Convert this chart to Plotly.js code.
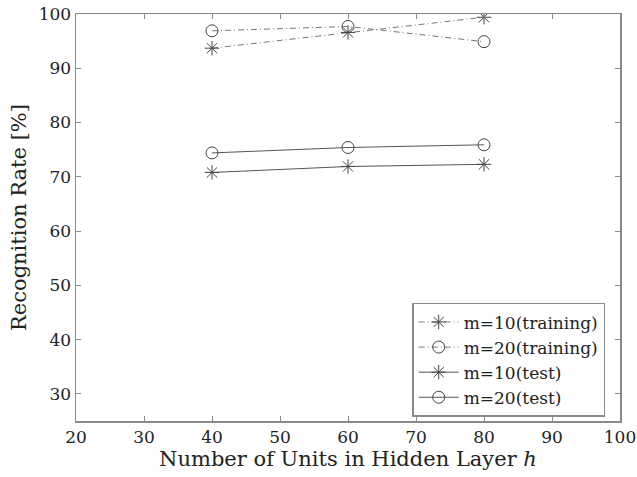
<!DOCTYPE html>
<html>
<head>
<meta charset="utf-8">
<script src="https://cdn.plot.ly/plotly-3.0.1.min.js"></script>
<style>html,body{margin:0;padding:0;background:#fff;}#chart{width:637px;height:477px;}</style>
</head>
<body>
<div id="chart"></div>
<script>
var hiddenUnits = [40, 60, 80];
var m10Training = [93.7, 96.6, 99.4];
var m20Training = [96.9, 97.7, 94.9];
var m10Test = [70.8, 71.9, 72.3];
var m20Test = [74.4, 75.4, 75.9];
var seriesNames = ['m=10(training)', 'm=20(training)', 'm=10(test)', 'm=20(test)'];
var xTicks = [20, 30, 40, 50, 60, 70, 80, 90, 100];
var yTicks = [30, 40, 50, 60, 70, 80, 90, 100];

var FAM = 'DejaVu Serif';
var lineCol = '#555';
function tr(y, name, sym, dash, col) {
  return {
    x: hiddenUnits, y: y, name: name, type: 'scatter', mode: 'lines+markers',
    line: {color: col, width: 1, dash: dash},
    marker: {symbol: sym, size: 12, color: '#444', line: {color: '#444', width: 1}}
  };
}
var dd = '6px,3px,1px,3px';
var data = [
  tr(m10Training, seriesNames[0], 'asterisk-open', dd, '#777'),
  tr(m20Training, seriesNames[1], 'circle-open', dd, '#777'),
  tr(m10Test, seriesNames[2], 'asterisk-open', 'solid', lineCol),
  tr(m20Test, seriesNames[3], 'circle-open', 'solid', lineCol)
];
var axisCommon = {
  showgrid: false, zeroline: false, showline: true, mirror: 'ticks',
  linecolor: '#8a8a8a', linewidth: 1.5, ticks: 'inside', ticklen: 5, tickcolor: '#8a8a8a',
  tickfont: {family: FAM, size: 17, color: '#222'}
};
var layout = {
  width: 637, height: 477,
  margin: {l: 76, r: 17, t: 14, b: 56},
  paper_bgcolor: '#fff', plot_bgcolor: '#fff',
  font: {family: FAM, color: '#222', size: 17},
  showlegend: true,
  xaxis: Object.assign({}, axisCommon, {
    range: [20, 100], tickvals: xTicks, ticktext: xTicks.map(String),
    title: {text: 'Number of Units in Hidden Layer <i>h</i>', font: {family: FAM, size: 21, color: '#222'}, standoff: 3}
  }),
  yaxis: Object.assign({}, axisCommon, {
    range: [25, 100], tickvals: yTicks, ticktext: yTicks.map(String),
    title: {text: 'Recognition Rate [%]', font: {family: FAM, size: 21, color: '#222'}, standoff: 6}
  }),
  legend: {
    x: 0.618, y: 0.01, xanchor: 'left', yanchor: 'bottom',
    bgcolor: '#fff', bordercolor: '#8a8a8a', borderwidth: 1.5,
    font: {family: FAM, size: 17, color: '#222'},
    tracegroupgap: 0, itemwidth: 40
  }
};
Plotly.newPlot('chart', data, layout, {displayModeBar: false, staticPlot: true});
</script>
</body>
</html>
